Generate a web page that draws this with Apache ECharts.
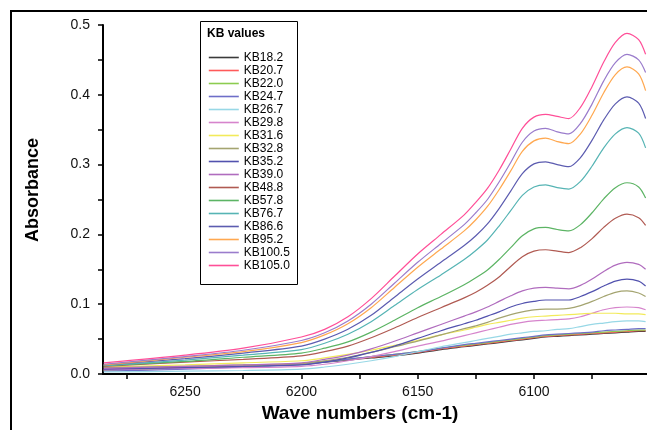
<!DOCTYPE html>
<html>
<head>
<meta charset="utf-8">
<script src="https://cdn.jsdelivr.net/npm/echarts@6/dist/echarts.min.js"></script>
<style>
html,body{margin:0;padding:0;background:#fff;}
#chart{width:647px;height:430px;}
</style>
</head>
<body>
<div id="chart"></div>
<script>
// Wavenumbers (cm-1) at which values were read
const waveNumbers = [6285, 6250, 6225, 6200, 6190, 6180, 6170, 6160, 6150, 6140, 6130, 6125, 6120, 6115, 6110, 6105, 6100, 6095, 6090, 6085, 6080, 6075, 6070, 6065, 6060, 6055, 6052];

const seriesNames = ['KB18.2','KB20.7','KB22.0','KB24.7','KB26.7','KB29.8','KB31.6','KB32.8','KB35.2','KB39.0','KB48.8','KB57.8','KB76.7','KB86.6','KB95.2','KB100.5','KB105.0'];

const kb18_2  = [0.007, 0.009, 0.011, 0.014, 0.017, 0.020, 0.023, 0.026, 0.030, 0.035, 0.039, 0.041, 0.043, 0.045, 0.047, 0.049, 0.051, 0.053, 0.054, 0.055, 0.056, 0.057, 0.058, 0.059, 0.060, 0.061, 0.061];
const kb20_7  = [0.006, 0.009, 0.011, 0.015, 0.018, 0.021, 0.024, 0.027, 0.031, 0.036, 0.040, 0.042, 0.044, 0.046, 0.048, 0.050, 0.052, 0.054, 0.055, 0.056, 0.057, 0.058, 0.059, 0.060, 0.061, 0.062, 0.062];
const kb22_0  = [0.005, 0.008, 0.011, 0.015, 0.018, 0.021, 0.025, 0.028, 0.032, 0.037, 0.041, 0.043, 0.045, 0.047, 0.049, 0.051, 0.053, 0.055, 0.056, 0.057, 0.058, 0.059, 0.060, 0.061, 0.062, 0.063, 0.063];
const kb24_7  = [0.004, 0.007, 0.010, 0.014, 0.017, 0.021, 0.025, 0.028, 0.032, 0.037, 0.042, 0.044, 0.046, 0.048, 0.050, 0.052, 0.054, 0.056, 0.057, 0.058, 0.059, 0.060, 0.062, 0.063, 0.064, 0.065, 0.065];
const kb26_7  = [0.003, 0.004, 0.005, 0.007, 0.010, 0.014, 0.019, 0.025, 0.032, 0.039, 0.045, 0.048, 0.051, 0.054, 0.057, 0.059, 0.061, 0.062, 0.064, 0.065, 0.068, 0.071, 0.073, 0.075, 0.076, 0.076, 0.075];
const kb29_8  = [0.006, 0.008, 0.009, 0.011, 0.014, 0.019, 0.025, 0.032, 0.040, 0.047, 0.055, 0.059, 0.063, 0.067, 0.071, 0.074, 0.076, 0.077, 0.078, 0.079, 0.082, 0.087, 0.092, 0.095, 0.096, 0.095, 0.092];
const kb31_6  = [0.010, 0.013, 0.016, 0.019, 0.023, 0.028, 0.034, 0.041, 0.048, 0.056, 0.063, 0.067, 0.071, 0.074, 0.077, 0.080, 0.082, 0.083, 0.084, 0.085, 0.086, 0.087, 0.087, 0.087, 0.086, 0.086, 0.085];
const kb32_8  = [0.009, 0.011, 0.013, 0.015, 0.019, 0.024, 0.031, 0.039, 0.047, 0.056, 0.065, 0.069, 0.074, 0.080, 0.085, 0.089, 0.092, 0.093, 0.093, 0.094, 0.098, 0.104, 0.111, 0.117, 0.119, 0.116, 0.111];
const kb35_2  = [0.007, 0.009, 0.011, 0.013, 0.017, 0.023, 0.031, 0.040, 0.051, 0.062, 0.072, 0.077, 0.083, 0.089, 0.096, 0.101, 0.104, 0.106, 0.106, 0.106, 0.111, 0.118, 0.126, 0.133, 0.136, 0.133, 0.126];
const kb39_0  = [0.008, 0.011, 0.013, 0.016, 0.021, 0.027, 0.036, 0.047, 0.059, 0.071, 0.083, 0.089, 0.096, 0.104, 0.112, 0.119, 0.123, 0.124, 0.123, 0.122, 0.127, 0.136, 0.147, 0.156, 0.160, 0.157, 0.150];
const kb48_8  = [0.011, 0.017, 0.021, 0.026, 0.032, 0.040, 0.052, 0.066, 0.081, 0.095, 0.109, 0.117, 0.127, 0.139, 0.154, 0.168, 0.176, 0.178, 0.176, 0.174, 0.181, 0.194, 0.210, 0.223, 0.229, 0.224, 0.213];
const kb57_8  = [0.012, 0.018, 0.024, 0.030, 0.037, 0.046, 0.060, 0.077, 0.095, 0.111, 0.128, 0.138, 0.149, 0.164, 0.181, 0.198, 0.208, 0.210, 0.207, 0.205, 0.214, 0.231, 0.251, 0.267, 0.274, 0.268, 0.252];
const kb76_7  = [0.012, 0.020, 0.027, 0.035, 0.044, 0.057, 0.075, 0.098, 0.121, 0.142, 0.164, 0.177, 0.192, 0.212, 0.234, 0.256, 0.268, 0.271, 0.267, 0.265, 0.276, 0.298, 0.324, 0.344, 0.353, 0.345, 0.324];
const kb86_6  = [0.013, 0.022, 0.030, 0.040, 0.050, 0.064, 0.084, 0.110, 0.136, 0.160, 0.184, 0.198, 0.215, 0.237, 0.262, 0.287, 0.301, 0.304, 0.300, 0.297, 0.310, 0.335, 0.364, 0.387, 0.397, 0.388, 0.366];
const kb95_2  = [0.013, 0.024, 0.032, 0.045, 0.056, 0.072, 0.095, 0.124, 0.153, 0.179, 0.205, 0.221, 0.240, 0.264, 0.291, 0.319, 0.334, 0.338, 0.333, 0.330, 0.344, 0.371, 0.403, 0.429, 0.440, 0.430, 0.406];
const kb100_5 = [0.014, 0.025, 0.034, 0.048, 0.059, 0.076, 0.100, 0.130, 0.160, 0.187, 0.214, 0.231, 0.250, 0.275, 0.303, 0.332, 0.348, 0.352, 0.347, 0.344, 0.359, 0.387, 0.420, 0.446, 0.458, 0.450, 0.432];
const kb105_0 = [0.016, 0.027, 0.037, 0.053, 0.064, 0.082, 0.108, 0.140, 0.172, 0.200, 0.228, 0.246, 0.266, 0.292, 0.322, 0.352, 0.368, 0.372, 0.369, 0.366, 0.382, 0.412, 0.447, 0.475, 0.488, 0.479, 0.458];

const seriesValues = [kb18_2, kb20_7, kb22_0, kb24_7, kb26_7, kb29_8, kb31_6, kb32_8, kb35_2, kb39_0, kb48_8, kb57_8, kb76_7, kb86_6, kb95_2, kb100_5, kb105_0];

const xTickLabels = [6250, 6200, 6150, 6100];
const xTickMarks = [6275, 6250, 6225, 6200, 6175, 6150, 6125, 6100, 6075];
const yTickMarks = [0, 0.05, 0.1, 0.15, 0.2, 0.25, 0.3, 0.35, 0.4, 0.45, 0.5];

const colors = ['#3a3a3a','#ff5a5a','#8ccc50','#6e6ec8','#98d8e6','#d684cc','#f2ea5a','#a4a470','#5252ae','#b06cbe','#b05a52','#5cb464','#56b4b4','#5c5cb0','#ffa850','#9a7ccc','#ff4f98'];

const FONT = 'Liberation Sans, Arial, sans-serif';

const series = seriesNames.map((name, i) => ({
  name: name,
  type: 'line',
  data: waveNumbers.map((w, j) => [w, seriesValues[i][j]]),
  symbol: 'none',
  showSymbol: false,
  smooth: 0.3,
  lineStyle: { width: 1.2, color: colors[i] },
  itemStyle: { color: colors[i] },
  z: 2
}));

const chart = echarts.init(document.getElementById('chart'), null, { renderer: 'canvas' });
chart.setOption({
  animation: false,
  backgroundColor: '#ffffff',
  color: colors,
  grid: { left: 103, top: 25, right: 0, bottom: 56, containLabel: false },
  xAxis: {
    type: 'value',
    inverse: true,
    min: 6051.4,
    max: 6285.3,
    axisLine: { show: true, onZero: false, lineStyle: { color: '#000', width: 2 } },
    axisTick: { show: true, length: 5, customValues: xTickMarks, lineStyle: { color: '#000', width: 1.5 } },
    axisLabel: { show: true, customValues: xTickLabels, margin: 11, color: '#111', fontSize: 14, fontFamily: FONT, formatter: v => String(Math.round(v)) },
    splitLine: { show: false }
  },
  yAxis: {
    type: 'value',
    min: 0,
    max: 0.5,
    interval: 0.1,
    axisLine: { show: true, onZero: false, lineStyle: { color: '#000', width: 2 } },
    axisTick: { show: true, length: 5, customValues: yTickMarks, lineStyle: { color: '#000', width: 1.5 } },
    axisLabel: { margin: 13, color: '#111', fontSize: 14, fontFamily: FONT, formatter: v => v.toFixed(1) },
    splitLine: { show: false }
  },
  legend: {
    orient: 'vertical',
    left: 208,
    top: 51,
    itemWidth: 30,
    itemHeight: 13.25,
    itemGap: 0,
    padding: 0,
    data: seriesNames,
    itemStyle: { opacity: 0 },
    textStyle: { fontSize: 12, lineHeight: 13, color: '#000', fontFamily: FONT },
    lineStyle: { width: 1.6 }
  },
  graphic: [
    { type: 'rect', shape: { x: 11, y: 11, width: 700, height: 500 }, style: { fill: null, stroke: '#000', lineWidth: 2 }, z: 100, silent: true },
    { type: 'rect', shape: { x: 200.5, y: 21.5, width: 97, height: 263 }, style: { fill: '#fff', stroke: '#000', lineWidth: 1 }, z: 0, silent: true },
    { type: 'text', x: 207, y: 34, style: { text: 'KB values', font: 'bold 12px ' + FONT, fill: '#000', verticalAlign: 'middle' }, z: 100 },
    { type: 'text', x: 33, y: 190, rotation: Math.PI / 2, style: { text: 'Absorbance', font: 'bold 18px ' + FONT, fill: '#000', align: 'center', verticalAlign: 'middle' }, z: 100 },
    { type: 'text', x: 360, y: 414, style: { text: 'Wave numbers (cm-1)', font: 'bold 19px ' + FONT, fill: '#000', align: 'center', verticalAlign: 'middle' }, z: 100 }
  ],
  series: series
});
</script>
</body>
</html>
